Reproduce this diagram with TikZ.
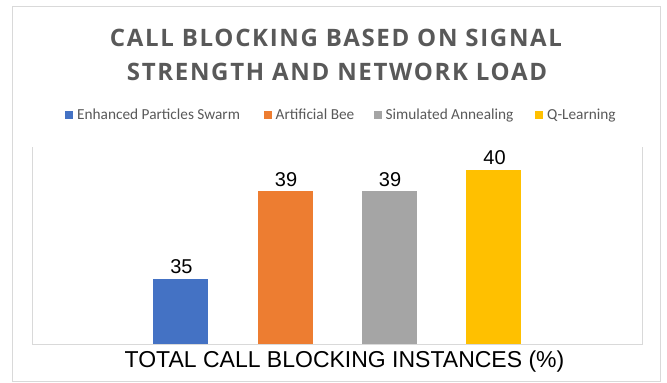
\documentclass[tikz,border=0pt]{standalone}
\usepackage{fontspec}
\setmainfont{Liberation Sans}
\newfontfamily\titlefont[LetterSpace=7]{Open Sans}
\newfontfamily\legendfont{Carlito}
\definecolor{frame}{HTML}{D9D9D9}
\definecolor{txtgray}{HTML}{595959}
\definecolor{sblue}{HTML}{4472C4}
\definecolor{sorange}{HTML}{ED7D31}
\definecolor{sgray}{HTML}{A5A5A5}
\definecolor{syellow}{HTML}{FFC000}
\begin{document}
\begin{tikzpicture}[x=1pt,y=-1pt,
  framepath/.style={draw=frame,line width=1pt},
  titletext/.style={anchor=base,inner sep=0pt,text=txtgray,font=\titlefont\bfseries\fontsize{24}{24}\selectfont},
  legkey/.style={minimum size=8pt,inner sep=0pt,anchor=north west},
  legtext/.style={anchor=base west,inner sep=0pt,text=txtgray,font=\legendfont\fontsize{15.3}{15.3}\selectfont},
  vallabel/.style={anchor=base,inner sep=0pt,font=\fontsize{20}{20}\selectfont},
  axistitle/.style={anchor=base,inner sep=0pt,font=\fontsize{23}{23}\selectfont}]
\useasboundingbox[fill=white] (0,0) rectangle (667,383);
% chart frame
\draw[framepath] (12.5,6) rectangle (660,381);
% plot area sides and axis
\draw[framepath] (32,147) -- (32,344) -- (642,344) -- (642,147);
% title
\node[titletext] (t1) at (336,46.5) {CALL BLOCKING BASED ON SIGNAL};
\node[titletext] (t2) at (337,80) {STRENGTH AND NETWORK LOAD};
% legend
\node[legkey,fill=sblue] (k1) at (65,110.5) {};
\node[legtext] (l1) at (77,119) {Enhanced Particles Swarm};
\node[legkey,fill=sorange] (k2) at (264,110.5) {};
\node[legtext] (l2) at (275.5,119) {Artificial Bee};
\node[legkey,fill=sgray] (k3) at (374,110.5) {};
\node[legtext] (l3) at (385.5,119) {Simulated Annealing};
\node[legkey,fill=syellow] (k4) at (535,110.5) {};
\node[legtext] (l4) at (547,119) {Q-Learning};
% bars: value v drawn at height (v-32)*21.8 above the axis
\foreach \cx/\v/\col/\nm in {180.5/35/sblue/b1, 285/39/sorange/b2, 389/39/sgray/b3, 493.5/40/syellow/b4}{
  \pgfmathsetmacro{\top}{344-(\v-32)*21.8}
  \fill[\col] (\cx-27.5,344) rectangle (\cx+27.5,\top);
  \node[vallabel] (\nm) at (\cx+1,\top-5) {\v};
}
% redraw axis over bar bottoms
\draw[framepath] (32,344) -- (642,344);
% axis title
\node[axistitle] (ax) at (344.5,367.5) {TOTAL CALL BLOCKING INSTANCES (\%)};
\end{tikzpicture}
\end{document}
